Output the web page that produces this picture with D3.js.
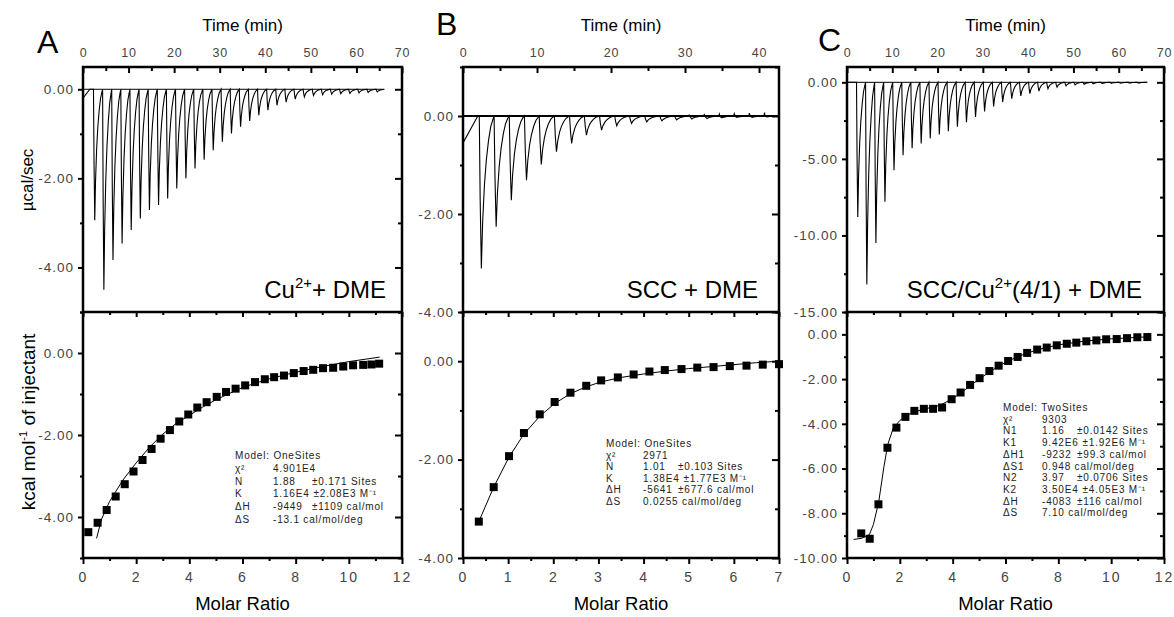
<!DOCTYPE html>
<html>
<head>
<meta charset="utf-8">
<script src="https://cdn.jsdelivr.net/npm/d3@7"></script>
<style>
  body { margin: 0; background: #fff; }
  svg text { font-family: "Liberation Sans", Arial, sans-serif; }
  .tick text { fill: #444; font-size: 13.5px; letter-spacing: 1px; }
  .time .tick text { font-size: 12.5px; letter-spacing: 0.8px; }
  .ratio .tick text { font-size: 14px; letter-spacing: 2px; }
  .params text { font-size: 10px; fill: #222; letter-spacing: 0.8px; }
</style>
</head>
<body>
<svg id="chart" width="1174" height="617"></svg>
<script>
// ---- raw thermograms: injection start (min) and peak depth (µcal/sec)
const aTimes = [2.3, 4.3, 6.3, 8.3, 10.3, 12.3, 14.3, 16.3, 18.3, 20.3, 22.3, 24.3, 26.3, 28.3, 30.3, 32.3,
  34.3, 36.3, 38.3, 40.3, 42.3, 44.3, 46.3, 48.3, 50.3, 52.3, 54.3, 56.3, 58.3, 60.3, 62.3, 64.3]
const aPeaks = [-2.94, -4.5, -3.83, -3.46, -3.16, -2.9, -2.71, -2.6, -2.45, -2.23, -2.0, -1.78, -1.58, -1.37, -1.18, -0.99,
  -0.84, -0.71, -0.58, -0.47, -0.36, -0.29, -0.22, -0.17, -0.14, -0.12, -0.11, -0.1, -0.09, -0.08, -0.07, -0.06]
const bTimes = [2.2, 4.2, 6.25, 8.3, 10.3, 12.35, 14.4, 16.4, 18.45, 20.5, 22.5, 24.55, 26.6, 28.6, 30.65, 32.7,
  34.7, 36.75, 38.8, 40.8]
const bPeaks = [-3.11, -2.26, -1.72, -1.31, -0.99, -0.73, -0.56, -0.39, -0.29, -0.2, -0.15, -0.12, -0.1, -0.08, -0.06, -0.05,
  -0.04, -0.03, -0.03, -0.02]
// small endothermic overshoot after the late B injections
const bBumps = [0, 0, 0, 0, 0, 0, 0, 0, 0, 0, 0, 0, 0, 0.02, 0.03, 0.04, 0.05, 0.06, 0.07, 0.08]
const cTimes = [2.1, 4.1, 6.1, 8.1, 10.1, 12.1, 14.1, 16.1, 18.1, 20.1, 22.1, 24.1, 26.1, 28.1, 30.1, 32.1,
  34.1, 36.1, 38.1, 40.1, 42.1, 44.1, 46.1, 48.1, 50.1, 52.1, 54.1, 56.1, 58.1, 60.1, 62.1, 64.1]
const cPeaks = [-8.8, -13.2, -10.5, -7.8, -5.74, -4.76, -4.3, -4.0, -3.66, -3.4, -3.2, -2.9, -2.6, -2.27, -1.9, -1.57,
  -1.29, -1.07, -0.89, -0.74, -0.57, -0.42, -0.31, -0.23, -0.17, -0.13, -0.1, -0.08, -0.07, -0.06, -0.05, -0.05]
// relative shape of one injection peak: [minutes after injection, fraction of depth]
const peakShape = [[0, 0], [0.12, 0.55], [0.28, 1], [0.45, 0.7], [0.7, 0.45], [0.95, 0.29], [1.25, 0.16], [1.55, 0.07], [1.85, 0.02]]
const aLead = [[0, -0.2], [1.5, 0]]
const bLead = [[0, -0.55], [2.0, 0]]
const cLead = [[0, 0]]

// ---- integrated heats (kcal/mol of injectant) vs molar ratio
const aRatio = [0.2, 0.55, 0.89, 1.23, 1.57, 1.9, 2.24, 2.58, 2.92, 3.27, 3.62, 3.96, 4.3, 4.65, 5.03, 5.38,
  5.74, 6.1, 6.47, 6.84, 7.19, 7.56, 7.93, 8.3, 8.66, 9.03, 9.41, 9.79, 10.16, 10.54, 10.85, 11.14]
const aHeat = [-4.37, -4.14, -3.83, -3.5, -3.2, -2.89, -2.61, -2.34, -2.09, -1.88, -1.67, -1.5, -1.33, -1.2, -1.07, -0.95,
  -0.87, -0.79, -0.71, -0.64, -0.59, -0.55, -0.49, -0.44, -0.41, -0.37, -0.36, -0.33, -0.3, -0.29, -0.28, -0.26]
const aFitX = [0.51, 0.7, 1, 1.5, 2, 2.5, 3, 3.5, 4, 4.5, 5, 6, 7, 8, 9, 10, 11.16]
const aFitY = [-4.52, -4.05, -3.62, -3.1, -2.68, -2.3, -1.98, -1.72, -1.52, -1.32, -1.14, -0.84, -0.63, -0.47, -0.33, -0.21, -0.1]

const bRatio = [0.35, 0.68, 1.02, 1.35, 1.7, 2.03, 2.38, 2.73, 3.06, 3.43, 3.78, 4.13, 4.47, 4.84, 5.19, 5.55,
  5.91, 6.28, 6.64, 7.0]
const bHeat = [-3.26, -2.56, -1.93, -1.46, -1.08, -0.83, -0.64, -0.5, -0.39, -0.33, -0.27, -0.21, -0.18, -0.16, -0.13, -0.12,
  -0.1, -0.09, -0.07, -0.06]
const bFitX = [0.35, 0.68, 1.02, 1.35, 1.7, 2.03, 2.38, 2.73, 3.06, 3.5, 4, 4.5, 5, 5.5, 6, 6.5, 7]
const bFitY = [-3.26, -2.56, -1.95, -1.48, -1.12, -0.86, -0.66, -0.52, -0.42, -0.33, -0.26, -0.2, -0.15, -0.11, -0.07, -0.03, 0.0]

const cRatio = [0.54, 0.86, 1.19, 1.53, 1.87, 2.21, 2.55, 2.91, 3.26, 3.6, 3.96, 4.3, 4.66, 5.02, 5.39, 5.74,
  6.1, 6.46, 6.82, 7.2, 7.56, 7.94, 8.32, 8.68, 9.06, 9.44, 9.81, 10.21, 10.6, 10.99, 11.37]
const cHeat = [-8.9, -9.14, -7.6, -5.07, -4.17, -3.69, -3.42, -3.33, -3.33, -3.27, -2.9, -2.6, -2.26, -1.96, -1.64, -1.4,
  -1.19, -1.01, -0.83, -0.68, -0.59, -0.49, -0.42, -0.37, -0.31, -0.27, -0.22, -0.21, -0.17, -0.13, -0.12]
const cFitX = [0.25, 0.55, 0.85, 1.0, 1.2, 1.4, 1.55, 1.75, 2.0, 2.3, 2.6, 3.0, 3.5, 4.0, 4.5, 5, 5.5, 6, 6.5, 7, 7.5, 8, 9, 10, 11.37]
const cFitY = [-9.17, -9.12, -8.95, -8.5, -7.5, -5.9, -4.9, -4.2, -3.85, -3.6, -3.45, -3.32, -3.18, -2.88, -2.45, -2.0, -1.6,
  -1.25, -0.98, -0.77, -0.6, -0.47, -0.3, -0.2, -0.11]

// ---- tick labels
const timeTicksLong = [0, 10, 20, 30, 40, 50, 60, 70]
const timeTicksShort = [0, 10, 20, 30, 40]
const aRawTicks = [0, -2, -4]
const bRawTicks = [0, -2, -4]
const cRawTicks = [0, -5, -10, -15]
const aHeatTicks = [0, -2, -4]
const bHeatTicks = [0, -2, -4]
const cHeatTicks = [0, -2, -4, -6, -8, -10]
const aRatioTicks = [0, 2, 4, 6, 8, 10, 12]
const bRatioTicks = [0, 1, 2, 3, 4, 5, 6, 7]
const cRatioTicks = [0, 2, 4, 6, 8, 10, 12]

// ---- fit parameters
const aParams = [['Model: OneSites', '', ''], ['χ²', '4.901E4', ''], ['N', '1.88', '±0.171 Sites'],
  ['K', '1.16E4', '±2.08E3 M⁻¹'], ['ΔH', '-9449', '±1109 cal/mol'], ['ΔS', '-13.1 cal/mol/deg', '']]
const bParams = [['Model: OneSites', '', ''], ['χ²', '2971', ''], ['N', '1.01', '±0.103 Sites'],
  ['K', '1.38E4', '±1.77E3 M⁻¹'], ['ΔH', '-5641', '±677.6 cal/mol'], ['ΔS', '0.0255 cal/mol/deg', '']]
const cParams = [['Model: TwoSites', '', ''], ['χ²', '9303', ''], ['N1', '1.16', '±0.0142 Sites'],
  ['K1', '9.42E6', '±1.92E6 M⁻¹'], ['ΔH1', '-9232', '±99.3 cal/mol'], ['ΔS1', '0.948 cal/mol/deg', ''],
  ['N2', '3.97', '±0.0706 Sites'], ['K2', '3.50E4', '±4.05E3 M⁻¹'], ['ΔH', '-4083', '±116 cal/mol'],
  ['ΔS', '7.10 cal/mol/deg', '']]

// ---- layout
const yTop = 67
const yMid = 312
const yBot = 558
const svg = d3.select('#chart')

const panels = [
  { letter: 'A', lx: 37, ly: 53, x0: 83, x1: 402, tDomain: [0, 70], tTicks: timeTicksLong, tEnd: 65.8,
    times: aTimes, peaks: aPeaks, bumps: null, lead: aLead, rawDomain: [-5, 0.5], rawTicks: aRawTicks, rawStep: 1, baseW: 1,
    ratio: aRatio, heat: aHeat, fitX: aFitX, fitY: aFitY, mDomain: [0, 12], mTicks: aRatioTicks, mStep: 1,
    heatDomain: [-5, 1], heatTicks: aHeatTicks,
    title: ['Cu', '2+', '+ DME'], titleX: 386,
    params: aParams, px: 235, pvx: 273, pex: 312, py: 459, pdy: 12.8 },
  { letter: 'B', lx: 436, ly: 35, x0: 463, x1: 779, tDomain: [0, 42.7], tTicks: timeTicksShort, tEnd: 42.7,
    times: bTimes, peaks: bPeaks, bumps: bBumps, lead: bLead, rawDomain: [-4, 1], rawTicks: bRawTicks, rawStep: 1, baseW: 2,
    ratio: bRatio, heat: bHeat, fitX: bFitX, fitY: bFitY, mDomain: [0, 7], mTicks: bRatioTicks, mStep: 0.5,
    heatDomain: [-4, 1], heatTicks: bHeatTicks,
    title: ['SCC + DME', '', ''], titleX: 758,
    params: bParams, px: 606, pvx: 643, pex: 678, py: 447, pdy: 11.6 },
  { letter: 'C', lx: 818, ly: 51, x0: 847, x1: 1164, tDomain: [0, 70], tTicks: timeTicksLong, tEnd: 66.3,
    times: cTimes, peaks: cPeaks, bumps: null, lead: cLead, rawDomain: [-15, 1], rawTicks: cRawTicks, rawStep: 2.5, baseW: 1,
    ratio: cRatio, heat: cHeat, fitX: cFitX, fitY: cFitY, mDomain: [0, 12], mTicks: cRatioTicks, mStep: 1,
    heatDomain: [-10, 1], heatTicks: cHeatTicks,
    title: ['SCC/Cu', '2+', '(4/1) + DME'], titleX: 1142,
    params: cParams, px: 1003, pvx: 1042, pex: 1077, py: 411, pdy: 11.7 },
]

const fmt2 = (d) => d.toFixed(2)
const stripDomain = (g) => g.select('.domain').remove()

function minorTicks(domain, step, majors) {
  const lo = Math.min(...domain), hi = Math.max(...domain)
  const out = []
  for (let v = Math.ceil(lo / step) * step; v <= hi + 1e-9; v += step) {
    const r = Math.round(v * 1000) / 1000
    if (!majors.some((m) => Math.abs(m - r) < 1e-6)) out.push(r)
  }
  return out
}

function drawPanel(p, i) {
  const g = svg.append('g')
  const tScale = d3.scaleLinear().domain(p.tDomain).range([p.x0, p.x1])
  const rawY = d3.scaleLinear().domain(p.rawDomain).range([yMid, yTop])
  const mScale = d3.scaleLinear().domain(p.mDomain).range([p.x0, p.x1])
  const heatY = d3.scaleLinear().domain(p.heatDomain).range([yBot, yMid])

  const clipId = 'clip' + i
  svg.append('clipPath').attr('id', clipId).append('rect')
    .attr('x', p.x0).attr('y', yTop).attr('width', p.x1 - p.x0).attr('height', yMid - yTop)

  // raw heat trace
  const pts = p.lead.slice()
  p.times.forEach((t, k) => {
    peakShape.forEach(([dt, f]) => pts.push([t + dt, f * p.peaks[k]]))
    if (p.bumps && p.bumps[k]) pts.push([t + 1.95, p.bumps[k]])
  })
  pts.push([p.tEnd, 0])
  const line = d3.line().x((d) => tScale(d[0])).y((d) => rawY(d[1]))
  const trace = g.append('g').attr('clip-path', `url(#${clipId})`)
  trace.append('line')
    .attr('x1', tScale(0)).attr('x2', tScale(p.tEnd))
    .attr('y1', rawY(0)).attr('y2', rawY(0))
    .attr('stroke', '#000').attr('stroke-width', p.baseW)
  trace.append('path').datum(pts).attr('d', line)
    .attr('fill', 'none').attr('stroke', '#000').attr('stroke-width', 1.1)

  // integrated heats
  const fit = p.fitX.map((x, k) => [x, p.fitY[k]])
  g.append('path').datum(fit)
    .attr('d', d3.line().x((d) => mScale(d[0])).y((d) => heatY(d[1])))
    .attr('fill', 'none').attr('stroke', '#000').attr('stroke-width', 1)
  g.selectAll('rect.pt').data(p.ratio).join('rect').attr('class', 'pt')
    .attr('x', (d) => mScale(d) - 4).attr('y', (d, k) => heatY(p.heat[k]) - 4)
    .attr('width', 8).attr('height', 8).attr('fill', '#000')

  // axes: time on top (ticks inward)
  g.append('g').attr('class', 'time').attr('transform', `translate(0,${yTop})`)
    .call(d3.axisTop(tScale).tickValues(p.tTicks).tickSize(-6).tickPadding(10).tickFormat(d3.format('d')))
    .call(stripDomain)
  g.append('g').attr('transform', `translate(0,${yTop})`)
    .call(d3.axisTop(tScale).tickValues(minorTicks(p.tDomain, 5, p.tTicks)).tickSize(-4).tickFormat(''))
    .call(stripDomain)

  // raw heat y axes
  g.append('g').attr('transform', `translate(${p.x0},0)`)
    .call(d3.axisLeft(rawY).tickValues(p.rawTicks).tickSize(5).tickPadding(4).tickFormat(fmt2))
    .call(stripDomain)
  const rawMinor = minorTicks(p.rawDomain, p.rawStep, p.rawTicks)
  g.append('g').attr('transform', `translate(${p.x0},0)`)
    .call(d3.axisLeft(rawY).tickValues(rawMinor).tickSize(3).tickFormat(''))
    .call(stripDomain)
  g.append('g').attr('transform', `translate(${p.x1},0)`)
    .call(d3.axisRight(rawY).tickValues(p.rawTicks).tickSize(-7).tickFormat(''))
    .call(stripDomain)
  g.append('g').attr('transform', `translate(${p.x1},0)`)
    .call(d3.axisRight(rawY).tickValues(rawMinor).tickSize(-4).tickFormat(''))
    .call(stripDomain)

  // heat y axes
  g.append('g').attr('transform', `translate(${p.x0},0)`)
    .call(d3.axisLeft(heatY).tickValues(p.heatTicks).tickSize(5).tickPadding(4).tickFormat(fmt2))
    .call(stripDomain)
  const heatMinor = minorTicks(p.heatDomain, 1, p.heatTicks)
  g.append('g').attr('transform', `translate(${p.x0},0)`)
    .call(d3.axisLeft(heatY).tickValues(heatMinor).tickSize(3).tickFormat(''))
    .call(stripDomain)
  g.append('g').attr('transform', `translate(${p.x1},0)`)
    .call(d3.axisRight(heatY).tickValues(p.heatTicks).tickSize(-7).tickFormat(''))
    .call(stripDomain)
  g.append('g').attr('transform', `translate(${p.x1},0)`)
    .call(d3.axisRight(heatY).tickValues(heatMinor).tickSize(-4).tickFormat(''))
    .call(stripDomain)

  // molar ratio axes
  const mMinor = minorTicks(p.mDomain, p.mStep, p.mTicks)
  g.append('g').attr('class', 'ratio').attr('transform', `translate(0,${yBot})`)
    .call(d3.axisBottom(mScale).tickValues(p.mTicks).tickSize(6).tickPadding(8).tickFormat(d3.format('d')))
    .call(stripDomain)
  g.append('g').attr('transform', `translate(0,${yBot})`)
    .call(d3.axisBottom(mScale).tickValues(mMinor).tickSize(3).tickFormat(''))
    .call(stripDomain)
  g.append('g').attr('transform', `translate(0,${yMid})`)
    .call(d3.axisTop(mScale).tickValues(p.mTicks).tickSize(-5).tickFormat(''))
    .call(stripDomain)
  g.append('g').attr('transform', `translate(0,${yMid})`)
    .call(d3.axisTop(mScale).tickValues(mMinor).tickSize(-3).tickFormat(''))
    .call(stripDomain)

  g.selectAll('.tick line').attr('stroke', '#000').attr('stroke-width', 2)

  // frame
  g.append('rect').attr('x', p.x0).attr('y', yTop)
    .attr('width', p.x1 - p.x0).attr('height', yBot - yTop)
    .attr('fill', 'none').attr('stroke', '#000').attr('stroke-width', 2.5)
  g.append('line').attr('x1', p.x0).attr('x2', p.x1).attr('y1', yMid).attr('y2', yMid)
    .attr('stroke', '#000').attr('stroke-width', 2.5)

  // labels
  g.append('text').attr('x', p.lx).attr('y', p.ly).attr('font-size', 32).text(p.letter)
  g.append('text').attr('x', (p.x0 + p.x1) / 2).attr('y', 31).attr('text-anchor', 'middle')
    .attr('font-size', 17).text('Time (min)')
  g.append('text').attr('x', (p.x0 + p.x1) / 2).attr('y', 610).attr('text-anchor', 'middle')
    .attr('font-size', 18.5).text('Molar Ratio')

  const title = g.append('text').attr('x', p.titleX).attr('y', 298)
    .attr('text-anchor', 'end').attr('font-size', 24)
  title.append('tspan').text(p.title[0])
  if (p.title[1]) {
    title.append('tspan').attr('font-size', 15).attr('dy', -10).text(p.title[1])
    title.append('tspan').attr('dy', 10).text(p.title[2])
  }

  // fit parameter table
  const pt = g.append('g').attr('class', 'params')
  p.params.forEach(([lab, val, err], k) => {
    const y = p.py + k * p.pdy
    pt.append('text').attr('x', p.px).attr('y', y).text(lab)
    if (val) {
      const v = pt.append('text').attr('x', p.pvx).attr('y', y).text(val)
      if (err) {
        const end = p.pvx + v.node().getComputedTextLength() + 4
        pt.append('text').attr('x', Math.max(p.pex, end)).attr('y', y).text(err)
      }
    }
  })
}

panels.forEach(drawPanel)

// shared y titles
svg.append('text').attr('transform', 'translate(33,180) rotate(-90)')
  .attr('text-anchor', 'middle').attr('font-size', 17).text('µcal/sec')
const yl = svg.append('text').attr('transform', 'translate(35,422) rotate(-90)')
  .attr('text-anchor', 'middle').attr('font-size', 19)
yl.append('tspan').text('kcal mol')
yl.append('tspan').attr('font-size', 11).attr('dy', -8).text('-1')
yl.append('tspan').attr('dy', 8).text(' of injectant')
</script>
</body>
</html>
